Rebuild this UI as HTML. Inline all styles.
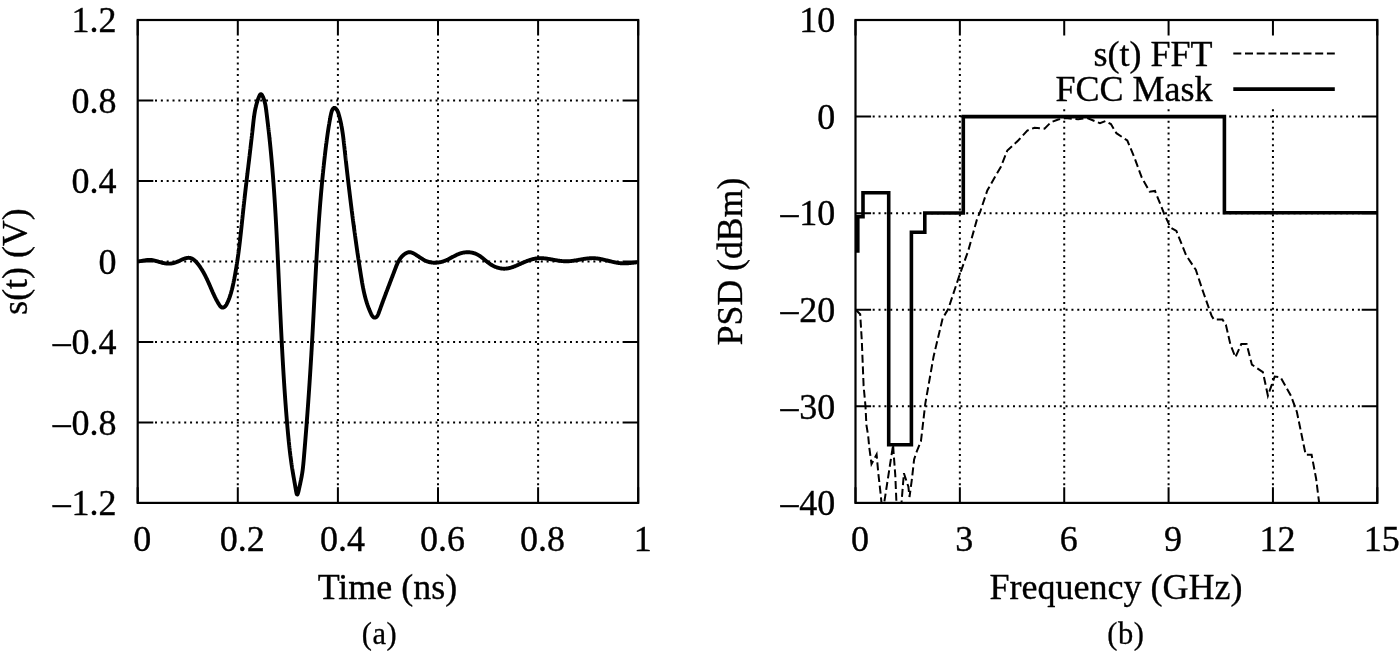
<!DOCTYPE html><html><head><meta charset="utf-8"><style>html,body{margin:0;padding:0;background:#fff;width:1400px;height:660px;overflow:hidden}svg{display:block;will-change:transform}</style></head><body>
<svg width="1400" height="660" viewBox="0 0 1400 660">
<defs><clipPath id="cl"><rect x="137.7" y="20" width="500.5" height="482.9"/></clipPath><clipPath id="cr"><rect x="855.5" y="20" width="521.8" height="482.9"/></clipPath></defs>
<path d="M155,100.48H620M155,180.97H620M155,261.45H620M155,341.93H620M155,422.42H620M237.8,39V486M337.9,39V486M438,39V486M538.1,39V486" stroke="#000" stroke-width="2.0" stroke-dasharray="2 3.845" fill="none"/>
<path d="M137.7,20h15.6M638.2,20h-15.6M137.7,100.48h15.6M638.2,100.48h-15.6M137.7,180.97h15.6M638.2,180.97h-15.6M137.7,261.45h15.6M638.2,261.45h-15.6M137.7,341.93h15.6M638.2,341.93h-15.6M137.7,422.42h15.6M638.2,422.42h-15.6M137.7,502.9h15.6M638.2,502.9h-15.6M137.7,502.9v-15.6M137.7,20v15.6M237.8,502.9v-15.6M237.8,20v15.6M337.9,502.9v-15.6M337.9,20v15.6M438,502.9v-15.6M438,20v15.6M538.1,502.9v-15.6M538.1,20v15.6M638.2,502.9v-15.6M638.2,20v15.6" stroke="#000" stroke-width="2" fill="none"/>
<rect x="137.7" y="20.0" width="500.5" height="482.9" stroke="#000" stroke-width="2.2" fill="none"/>
<polyline points="137,261.47 137.5,261.45 137.99,261.42 138.49,261.38 138.98,261.32 139.48,261.26 139.98,261.19 140.47,261.12 140.97,261.04 141.46,260.95 141.96,260.86 142.45,260.77 142.95,260.67 143.44,260.58 143.94,260.48 144.43,260.39 144.93,260.31 145.42,260.22 145.92,260.15 146.41,260.07 146.91,260.01 147.4,259.96 147.89,259.91 148.39,259.88 148.88,259.86 149.38,259.85 149.87,259.86 150.37,259.88 150.86,259.92 151.36,259.97 151.85,260.04 152.34,260.11 152.84,260.2 153.33,260.3 153.83,260.4 154.32,260.52 154.81,260.64 155.3,260.77 155.8,260.9 156.29,261.04 156.78,261.18 157.27,261.33 157.76,261.47 158.25,261.62 158.74,261.77 159.23,261.92 159.71,262.07 160.2,262.21 160.69,262.35 161.17,262.49 161.66,262.62 162.14,262.75 162.62,262.87 163.1,262.98 163.58,263.09 164.06,263.18 164.54,263.27 165.02,263.35 165.5,263.42 165.98,263.48 166.46,263.53 166.93,263.58 167.41,263.61 167.89,263.63 168.37,263.64 168.85,263.64 169.32,263.63 169.8,263.61 170.28,263.58 170.76,263.54 171.25,263.48 171.73,263.41 172.21,263.33 172.7,263.24 173.18,263.13 173.67,263.01 174.16,262.88 174.65,262.74 175.15,262.58 175.64,262.41 176.14,262.22 176.63,262.02 177.13,261.82 177.63,261.61 178.13,261.39 178.63,261.16 179.13,260.94 179.63,260.71 180.13,260.48 180.63,260.25 181.13,260.02 181.63,259.79 182.12,259.57 182.62,259.36 183.11,259.16 183.6,258.96 184.08,258.77 184.57,258.6 185.05,258.44 185.53,258.3 186,258.17 186.48,258.06 186.94,257.97 187.41,257.9 187.87,257.85 188.32,257.82 188.77,257.82 189.22,257.85 189.65,257.9 190.09,257.98 190.52,258.09 190.94,258.22 191.36,258.37 191.77,258.55 192.18,258.75 192.58,258.97 192.98,259.21 193.37,259.47 193.76,259.75 194.14,260.04 194.52,260.35 194.89,260.67 195.26,261.01 195.62,261.36 195.98,261.72 196.33,262.1 196.68,262.48 197.02,262.88 197.36,263.28 197.69,263.69 198.02,264.1 198.34,264.52 198.66,264.95 198.98,265.37 199.28,265.8 199.59,266.24 199.89,266.67 200.19,267.1 200.48,267.53 200.76,267.97 201.05,268.4 201.33,268.83 201.6,269.27 201.87,269.7 202.14,270.14 202.4,270.57 202.66,271.01 202.92,271.45 203.17,271.88 203.42,272.32 203.67,272.76 203.91,273.2 204.15,273.64 204.39,274.08 204.62,274.52 204.85,274.96 205.08,275.4 205.31,275.84 205.53,276.28 205.76,276.72 205.98,277.16 206.19,277.61 206.41,278.05 206.62,278.49 206.83,278.94 207.04,279.38 207.25,279.83 207.46,280.27 207.67,280.72 207.87,281.17 208.07,281.61 208.27,282.06 208.47,282.51 208.67,282.96 208.87,283.41 209.07,283.86 209.27,284.3 209.46,284.75 209.66,285.21 209.86,285.66 210.05,286.11 210.25,286.56 210.44,287.01 210.64,287.46 210.84,287.92 211.03,288.37 211.23,288.82 211.43,289.28 211.62,289.73 211.82,290.19 212.02,290.64 212.22,291.1 212.42,291.55 212.62,292.01 212.83,292.46 213.03,292.92 213.24,293.38 213.45,293.83 213.66,294.29 213.87,294.74 214.08,295.2 214.3,295.66 214.52,296.11 214.74,296.57 214.96,297.03 215.19,297.48 215.41,297.94 215.64,298.39 215.88,298.85 216.11,299.31 216.35,299.76 216.6,300.22 216.84,300.67 217.09,301.13 217.35,301.58 217.6,302.04 217.86,302.49 218.13,302.94 218.4,303.4 218.67,303.85 218.94,304.3 219.23,304.75 219.51,305.19 219.81,305.61 220.11,306.01 220.42,306.38 220.74,306.72 221.07,307.01 221.41,307.26 221.77,307.44 222.14,307.57 222.52,307.63 222.92,307.61 223.34,307.53 223.75,307.37 224.15,307.16 224.54,306.91 224.91,306.61 225.25,306.27 225.58,305.9 225.88,305.5 226.17,305.08 226.44,304.63 226.7,304.17 226.94,303.7 227.18,303.22 227.41,302.73 227.63,302.24 227.85,301.75 228.06,301.27 228.27,300.78 228.47,300.29 228.67,299.81 228.86,299.32 229.05,298.84 229.24,298.35 229.42,297.87 229.59,297.38 229.76,296.9 229.93,296.41 230.09,295.93 230.25,295.44 230.41,294.96 230.56,294.47 230.71,293.99 230.86,293.51 231,293.02 231.14,292.54 231.27,292.06 231.41,291.57 231.54,291.09 231.67,290.6 231.79,290.12 231.92,289.64 232.04,289.15 232.16,288.67 232.27,288.19 232.39,287.7 232.5,287.22 232.61,286.73 232.72,286.25 232.83,285.77 232.94,285.28 233.04,284.8 233.15,284.31 233.25,283.83 233.35,283.34 233.46,282.86 233.56,282.37 233.66,281.89 233.76,281.4 233.86,280.91 233.96,280.43 234.05,279.94 234.15,279.45 234.25,278.97 234.34,278.48 234.44,277.99 234.53,277.51 234.62,277.02 234.72,276.53 234.81,276.04 234.9,275.56 234.99,275.07 235.08,274.58 235.17,274.09 235.26,273.6 235.34,273.11 235.43,272.62 235.52,272.13 235.6,271.65 235.69,271.16 235.77,270.67 235.86,270.18 235.94,269.69 236.02,269.2 236.11,268.71 236.19,268.22 236.27,267.73 236.35,267.23 236.43,266.74 236.51,266.25 236.59,265.76 236.66,265.27 236.74,264.78 236.82,264.29 236.9,263.8 236.97,263.3 237.05,262.81 237.12,262.32 237.2,261.83 237.27,261.33 237.34,260.84 237.42,260.35 237.49,259.86 237.56,259.36 237.63,258.87 237.7,258.38 237.77,257.88 237.84,257.39 237.91,256.9 237.98,256.4 238.05,255.91 238.12,255.42 238.19,254.92 238.25,254.43 238.32,253.93 238.39,253.44 238.45,252.94 238.52,252.45 238.59,251.96 238.65,251.46 238.71,250.97 238.78,250.47 238.84,249.98 238.91,249.48 238.97,248.99 239.03,248.49 239.09,247.99 239.16,247.5 239.22,247 239.28,246.51 239.34,246.01 239.4,245.52 239.46,245.02 239.52,244.52 239.58,244.03 239.64,243.53 239.7,243.03 239.76,242.54 239.82,242.04 239.88,241.55 239.93,241.05 239.99,240.55 240.05,240.06 240.11,239.56 240.16,239.06 240.22,238.56 240.28,238.07 240.33,237.57 240.39,237.07 240.44,236.58 240.5,236.08 240.56,235.58 240.61,235.08 240.67,234.59 240.72,234.09 240.78,233.59 240.83,233.09 240.88,232.6 240.94,232.1 240.99,231.6 241.05,231.1 241.1,230.6 241.15,230.11 241.21,229.61 241.26,229.11 241.31,228.61 241.37,228.11 241.42,227.62 241.47,227.12 241.53,226.62 241.58,226.12 241.63,225.62 241.68,225.12 241.74,224.63 241.79,224.13 241.84,223.63 241.89,223.13 241.95,222.63 242,222.13 242.05,221.64 242.1,221.14 242.16,220.64 242.21,220.14 242.26,219.64 242.31,219.14 242.36,218.64 242.42,218.15 242.47,217.65 242.52,217.15 242.57,216.65 242.63,216.15 242.68,215.65 242.73,215.15 242.78,214.65 242.84,214.16 242.89,213.66 242.94,213.16 242.99,212.66 243.05,212.16 243.1,211.66 243.15,211.16 243.2,210.67 243.26,210.17 243.31,209.67 243.36,209.17 243.42,208.67 243.47,208.17 243.52,207.67 243.58,207.18 243.63,206.68 243.69,206.18 243.74,205.68 243.79,205.18 243.85,204.68 243.9,204.18 243.96,203.69 244.01,203.19 244.07,202.69 244.12,202.19 244.18,201.69 244.23,201.19 244.29,200.7 244.34,200.2 244.4,199.7 244.46,199.2 244.51,198.7 244.57,198.21 244.62,197.71 244.68,197.21 244.74,196.71 244.79,196.21 244.85,195.72 244.91,195.22 244.96,194.72 245.02,194.22 245.08,193.72 245.13,193.23 245.19,192.73 245.25,192.23 245.3,191.73 245.36,191.23 245.42,190.74 245.48,190.24 245.53,189.74 245.59,189.24 245.65,188.74 245.71,188.25 245.77,187.75 245.82,187.25 245.88,186.75 245.94,186.26 246,185.76 246.06,185.26 246.11,184.76 246.17,184.27 246.23,183.77 246.29,183.27 246.35,182.77 246.41,182.28 246.46,181.78 246.52,181.28 246.58,180.78 246.64,180.29 246.7,179.79 246.76,179.29 246.82,178.8 246.88,178.3 246.93,177.8 246.99,177.3 247.05,176.81 247.11,176.31 247.17,175.81 247.23,175.32 247.29,174.82 247.35,174.32 247.41,173.82 247.47,173.33 247.52,172.83 247.58,172.33 247.64,171.84 247.7,171.34 247.76,170.84 247.82,170.35 247.88,169.85 247.94,169.35 248,168.86 248.06,168.36 248.12,167.86 248.18,167.37 248.24,166.87 248.3,166.37 248.35,165.88 248.41,165.38 248.47,164.88 248.53,164.39 248.59,163.89 248.65,163.4 248.71,162.9 248.77,162.4 248.83,161.91 248.89,161.41 248.95,160.91 249.01,160.42 249.07,159.92 249.12,159.43 249.18,158.93 249.24,158.43 249.3,157.94 249.36,157.44 249.42,156.95 249.48,156.45 249.54,155.95 249.6,155.46 249.65,154.96 249.71,154.47 249.77,153.97 249.83,153.48 249.89,152.98 249.95,152.48 250.01,151.99 250.07,151.49 250.12,151 250.18,150.5 250.24,150.01 250.3,149.51 250.36,149.02 250.41,148.52 250.47,148.03 250.53,147.53 250.59,147.04 250.65,146.54 250.7,146.05 250.76,145.55 250.82,145.05 250.88,144.56 250.94,144.06 250.99,143.57 251.05,143.07 251.11,142.58 251.16,142.09 251.22,141.59 251.28,141.1 251.34,140.6 251.39,140.11 251.45,139.61 251.51,139.12 251.56,138.62 251.62,138.13 251.67,137.63 251.73,137.14 251.79,136.64 251.84,136.15 251.9,135.66 251.95,135.16 252.01,134.67 252.07,134.17 252.12,133.68 252.18,133.18 252.23,132.69 252.29,132.2 252.34,131.7 252.4,131.21 252.45,130.71 252.51,130.22 252.56,129.73 252.62,129.23 252.67,128.74 252.72,128.24 252.78,127.75 252.83,127.26 252.89,126.76 252.94,126.27 252.99,125.78 253.05,125.28 253.1,124.79 253.15,124.29 253.21,123.8 253.26,123.31 253.31,122.81 253.37,122.32 253.42,121.83 253.48,121.33 253.54,120.84 253.59,120.35 253.65,119.85 253.71,119.36 253.77,118.86 253.83,118.37 253.9,117.88 253.96,117.38 254.03,116.89 254.09,116.39 254.16,115.9 254.23,115.4 254.31,114.91 254.38,114.42 254.46,113.92 254.54,113.42 254.62,112.93 254.7,112.43 254.79,111.94 254.87,111.44 254.96,110.95 255.06,110.45 255.15,109.95 255.25,109.46 255.36,108.96 255.46,108.46 255.57,107.96 255.68,107.46 255.8,106.97 255.91,106.47 256.03,105.97 256.16,105.47 256.29,104.97 256.42,104.47 256.56,103.97 256.7,103.47 256.84,102.97 256.99,102.47 257.15,101.96 257.3,101.46 257.47,100.96 257.63,100.46 257.8,99.95 257.98,99.45 258.16,98.95 258.35,98.44 258.54,97.94 258.73,97.43 258.93,96.93 259.14,96.43 259.35,95.96 259.57,95.52 259.79,95.13 260.01,94.79 260.24,94.51 260.48,94.31 260.72,94.19 260.96,94.17 261.21,94.26 261.46,94.43 261.71,94.69 261.96,95.02 262.21,95.41 262.45,95.84 262.69,96.32 262.93,96.82 263.15,97.33 263.36,97.85 263.56,98.37 263.75,98.88 263.93,99.39 264.1,99.9 264.27,100.41 264.42,100.92 264.56,101.42 264.7,101.93 264.83,102.43 264.95,102.93 265.07,103.43 265.18,103.93 265.28,104.43 265.38,104.93 265.47,105.43 265.55,105.92 265.64,106.42 265.72,106.91 265.79,107.4 265.87,107.9 265.94,108.39 266,108.88 266.07,109.38 266.14,109.87 266.2,110.36 266.26,110.86 266.33,111.35 266.39,111.84 266.45,112.33 266.52,112.83 266.58,113.32 266.64,113.81 266.7,114.31 266.76,114.8 266.83,115.29 266.89,115.79 266.95,116.28 267.01,116.78 267.07,117.27 267.13,117.76 267.19,118.26 267.25,118.75 267.31,119.25 267.37,119.74 267.43,120.23 267.49,120.73 267.55,121.22 267.61,121.72 267.67,122.21 267.73,122.71 267.79,123.2 267.85,123.7 267.91,124.19 267.97,124.69 268.02,125.18 268.08,125.68 268.14,126.17 268.2,126.67 268.25,127.17 268.31,127.66 268.37,128.16 268.43,128.65 268.48,129.15 268.54,129.64 268.59,130.14 268.65,130.64 268.71,131.13 268.76,131.63 268.82,132.12 268.87,132.62 268.93,133.12 268.98,133.61 269.04,134.11 269.09,134.61 269.15,135.1 269.2,135.6 269.25,136.1 269.31,136.59 269.36,137.09 269.41,137.59 269.47,138.08 269.52,138.58 269.57,139.08 269.63,139.57 269.68,140.07 269.73,140.57 269.78,141.06 269.83,141.56 269.89,142.06 269.94,142.55 269.99,143.05 270.04,143.55 270.09,144.05 270.14,144.54 270.19,145.04 270.24,145.54 270.29,146.04 270.34,146.53 270.39,147.03 270.44,147.53 270.49,148.03 270.54,148.52 270.59,149.02 270.63,149.52 270.68,150.02 270.73,150.51 270.78,151.01 270.83,151.51 270.87,152.01 270.92,152.5 270.97,153 271.02,153.5 271.06,154 271.11,154.49 271.15,154.99 271.2,155.49 271.25,155.99 271.29,156.49 271.34,156.98 271.38,157.48 271.43,157.98 271.47,158.48 271.52,158.98 271.56,159.47 271.61,159.97 271.65,160.47 271.7,160.97 271.74,161.47 271.78,161.96 271.83,162.46 271.87,162.96 271.92,163.46 271.96,163.96 272,164.45 272.04,164.95 272.09,165.45 272.13,165.95 272.17,166.45 272.21,166.95 272.26,167.44 272.3,167.94 272.34,168.44 272.38,168.94 272.42,169.44 272.46,169.94 272.5,170.43 272.54,170.93 272.58,171.43 272.62,171.93 272.66,172.43 272.7,172.93 272.74,173.42 272.78,173.92 272.82,174.42 272.86,174.92 272.9,175.42 272.94,175.92 272.98,176.42 273.02,176.91 273.06,177.41 273.1,177.91 273.13,178.41 273.17,178.91 273.21,179.41 273.25,179.91 273.29,180.41 273.32,180.9 273.36,181.4 273.4,181.9 273.44,182.4 273.47,182.9 273.51,183.4 273.55,183.9 273.58,184.4 273.62,184.89 273.66,185.39 273.69,185.89 273.73,186.39 273.76,186.89 273.8,187.39 273.83,187.89 273.87,188.39 273.9,188.89 273.94,189.38 273.97,189.88 274.01,190.38 274.04,190.88 274.08,191.38 274.11,191.88 274.15,192.38 274.18,192.88 274.22,193.38 274.25,193.88 274.28,194.37 274.32,194.87 274.35,195.37 274.38,195.87 274.42,196.37 274.45,196.87 274.48,197.37 274.52,197.87 274.55,198.37 274.58,198.87 274.61,199.37 274.65,199.87 274.68,200.36 274.71,200.86 274.74,201.36 274.77,201.86 274.81,202.36 274.84,202.86 274.87,203.36 274.9,203.86 274.93,204.36 274.96,204.86 275,205.36 275.03,205.86 275.06,206.36 275.09,206.86 275.12,207.35 275.15,207.85 275.18,208.35 275.21,208.85 275.24,209.35 275.27,209.85 275.3,210.35 275.33,210.85 275.36,211.35 275.39,211.85 275.42,212.35 275.45,212.85 275.48,213.35 275.51,213.85 275.54,214.35 275.57,214.85 275.59,215.34 275.62,215.84 275.65,216.34 275.68,216.84 275.71,217.34 275.74,217.84 275.77,218.34 275.79,218.84 275.82,219.34 275.85,219.84 275.88,220.34 275.91,220.84 275.94,221.34 275.96,221.84 275.99,222.34 276.02,222.84 276.05,223.34 276.07,223.84 276.1,224.34 276.13,224.83 276.16,225.33 276.18,225.83 276.21,226.33 276.24,226.83 276.26,227.33 276.29,227.83 276.32,228.33 276.34,228.83 276.37,229.33 276.4,229.83 276.42,230.33 276.45,230.83 276.48,231.33 276.5,231.83 276.53,232.33 276.55,232.83 276.58,233.33 276.61,233.83 276.63,234.33 276.66,234.83 276.68,235.33 276.71,235.82 276.73,236.32 276.76,236.82 276.79,237.32 276.81,237.82 276.84,238.32 276.86,238.82 276.89,239.32 276.91,239.82 276.94,240.32 276.96,240.82 276.99,241.32 277.01,241.82 277.04,242.32 277.06,242.82 277.09,243.32 277.11,243.82 277.14,244.32 277.16,244.82 277.18,245.32 277.21,245.82 277.23,246.31 277.26,246.81 277.28,247.31 277.31,247.81 277.33,248.31 277.35,248.81 277.38,249.31 277.4,249.81 277.43,250.31 277.45,250.81 277.47,251.31 277.5,251.81 277.52,252.31 277.55,252.81 277.57,253.31 277.59,253.81 277.62,254.31 277.64,254.81 277.67,255.31 277.69,255.8 277.71,256.3 277.74,256.8 277.76,257.3 277.78,257.8 277.81,258.3 277.83,258.8 277.85,259.3 277.88,259.8 277.9,260.3 277.92,260.8 277.95,261.3 277.97,261.8 277.99,262.3 278.02,262.8 278.04,263.3 278.06,263.79 278.09,264.29 278.11,264.79 278.13,265.29 278.15,265.79 278.18,266.29 278.2,266.79 278.22,267.29 278.25,267.79 278.27,268.29 278.29,268.79 278.32,269.29 278.34,269.79 278.36,270.29 278.38,270.78 278.41,271.28 278.43,271.78 278.45,272.28 278.48,272.78 278.5,273.28 278.52,273.78 278.54,274.28 278.57,274.78 278.59,275.28 278.61,275.78 278.63,276.28 278.66,276.77 278.68,277.27 278.7,277.77 278.73,278.27 278.75,278.77 278.77,279.27 278.79,279.77 278.82,280.27 278.84,280.77 278.86,281.27 278.88,281.77 278.91,282.26 278.93,282.76 278.95,283.26 278.97,283.76 279,284.26 279.02,284.76 279.04,285.26 279.06,285.76 279.09,286.26 279.11,286.76 279.13,287.25 279.16,287.75 279.18,288.25 279.2,288.75 279.22,289.25 279.25,289.75 279.27,290.25 279.29,290.75 279.31,291.25 279.34,291.75 279.36,292.24 279.38,292.74 279.4,293.24 279.43,293.74 279.45,294.24 279.47,294.74 279.5,295.24 279.52,295.74 279.54,296.24 279.56,296.73 279.59,297.23 279.61,297.73 279.63,298.23 279.66,298.73 279.68,299.23 279.7,299.73 279.72,300.23 279.75,300.73 279.77,301.22 279.79,301.72 279.82,302.22 279.84,302.72 279.86,303.22 279.88,303.72 279.91,304.22 279.93,304.72 279.95,305.22 279.98,305.71 280,306.21 280.02,306.71 280.05,307.21 280.07,307.71 280.09,308.21 280.11,308.71 280.14,309.21 280.16,309.71 280.18,310.2 280.21,310.7 280.23,311.2 280.25,311.7 280.28,312.2 280.3,312.7 280.32,313.2 280.35,313.7 280.37,314.2 280.39,314.69 280.42,315.19 280.44,315.69 280.47,316.19 280.49,316.69 280.51,317.19 280.54,317.69 280.56,318.19 280.58,318.69 280.61,319.18 280.63,319.68 280.66,320.18 280.68,320.68 280.7,321.18 280.73,321.68 280.75,322.18 280.78,322.68 280.8,323.17 280.82,323.67 280.85,324.17 280.87,324.67 280.9,325.17 280.92,325.67 280.94,326.17 280.97,326.67 280.99,327.17 281.02,327.66 281.04,328.16 281.07,328.66 281.09,329.16 281.12,329.66 281.14,330.16 281.17,330.66 281.19,331.16 281.22,331.66 281.24,332.15 281.27,332.65 281.29,333.15 281.32,333.65 281.34,334.15 281.37,334.65 281.39,335.15 281.42,335.65 281.44,336.15 281.47,336.64 281.49,337.14 281.52,337.64 281.54,338.14 281.57,338.64 281.59,339.14 281.62,339.64 281.64,340.14 281.67,340.64 281.7,341.13 281.72,341.63 281.75,342.13 281.77,342.63 281.8,343.13 281.83,343.63 281.85,344.13 281.88,344.63 281.91,345.13 281.93,345.62 281.96,346.12 281.98,346.62 282.01,347.12 282.04,347.62 282.06,348.12 282.09,348.62 282.12,349.12 282.14,349.62 282.17,350.12 282.2,350.61 282.23,351.11 282.25,351.61 282.28,352.11 282.31,352.61 282.33,353.11 282.36,353.61 282.39,354.11 282.42,354.61 282.44,355.11 282.47,355.6 282.5,356.1 282.53,356.6 282.56,357.1 282.58,357.6 282.61,358.1 282.64,358.6 282.67,359.1 282.7,359.6 282.72,360.1 282.75,360.59 282.78,361.09 282.81,361.59 282.84,362.09 282.87,362.59 282.9,363.09 282.93,363.59 282.95,364.09 282.98,364.59 283.01,365.09 283.04,365.59 283.07,366.09 283.1,366.58 283.13,367.08 283.16,367.58 283.19,368.08 283.22,368.58 283.25,369.08 283.28,369.58 283.31,370.08 283.34,370.58 283.37,371.08 283.4,371.58 283.43,372.08 283.46,372.57 283.49,373.07 283.52,373.57 283.55,374.07 283.58,374.57 283.61,375.07 283.64,375.57 283.68,376.07 283.71,376.57 283.74,377.07 283.77,377.57 283.8,378.07 283.83,378.57 283.86,379.07 283.9,379.57 283.93,380.06 283.96,380.56 283.99,381.06 284.02,381.56 284.06,382.06 284.09,382.56 284.12,383.06 284.15,383.56 284.19,384.06 284.22,384.56 284.25,385.06 284.28,385.56 284.32,386.06 284.35,386.56 284.38,387.06 284.42,387.56 284.45,388.06 284.48,388.56 284.52,389.06 284.55,389.55 284.59,390.05 284.62,390.55 284.65,391.05 284.69,391.55 284.72,392.05 284.76,392.55 284.79,393.05 284.83,393.55 284.86,394.05 284.9,394.55 284.93,395.05 284.97,395.55 285,396.05 285.04,396.55 285.07,397.05 285.11,397.55 285.14,398.05 285.18,398.55 285.21,399.05 285.25,399.55 285.29,400.05 285.32,400.55 285.36,401.05 285.4,401.55 285.43,402.05 285.47,402.55 285.51,403.05 285.54,403.55 285.58,404.05 285.62,404.55 285.66,405.05 285.69,405.55 285.73,406.05 285.77,406.55 285.81,407.05 285.84,407.55 285.88,408.05 285.92,408.55 285.96,409.05 286,409.55 286.04,410.05 286.07,410.55 286.11,411.05 286.15,411.55 286.19,412.05 286.23,412.55 286.27,413.05 286.31,413.55 286.35,414.05 286.39,414.55 286.43,415.05 286.47,415.55 286.51,416.05 286.55,416.55 286.59,417.05 286.63,417.55 286.67,418.05 286.71,418.55 286.75,419.05 286.79,419.55 286.84,420.05 286.88,420.55 286.92,421.05 286.96,421.55 287,422.05 287.04,422.55 287.09,423.05 287.13,423.55 287.17,424.05 287.21,424.55 287.26,425.05 287.3,425.56 287.34,426.06 287.39,426.56 287.43,427.06 287.47,427.56 287.52,428.06 287.56,428.56 287.61,429.06 287.65,429.56 287.7,430.06 287.74,430.56 287.79,431.06 287.83,431.56 287.88,432.06 287.92,432.56 287.97,433.06 288.01,433.56 288.06,434.06 288.11,434.56 288.15,435.06 288.2,435.55 288.25,436.05 288.3,436.55 288.35,437.05 288.39,437.55 288.44,438.05 288.49,438.55 288.54,439.05 288.59,439.55 288.64,440.04 288.69,440.54 288.74,441.04 288.79,441.54 288.84,442.04 288.9,442.53 288.95,443.03 289,443.53 289.05,444.03 289.1,444.52 289.16,445.02 289.21,445.52 289.27,446.01 289.32,446.51 289.37,447 289.43,447.5 289.48,448 289.54,448.49 289.6,448.99 289.65,449.48 289.71,449.98 289.77,450.47 289.82,450.97 289.88,451.46 289.94,451.95 290,452.45 290.06,452.94 290.12,453.43 290.18,453.93 290.24,454.42 290.3,454.91 290.36,455.41 290.43,455.9 290.49,456.39 290.55,456.88 290.61,457.37 290.68,457.86 290.74,458.35 290.81,458.84 290.87,459.33 290.94,459.82 291.01,460.31 291.07,460.8 291.14,461.29 291.21,461.78 291.28,462.27 291.34,462.76 291.41,463.24 291.48,463.73 291.55,464.22 291.62,464.71 291.7,465.19 291.77,465.68 291.84,466.16 291.91,466.65 291.99,467.13 292.06,467.62 292.14,468.1 292.21,468.59 292.29,469.07 292.36,469.55 292.44,470.04 292.52,470.52 292.6,471 292.68,471.48 292.76,471.96 292.84,472.45 292.92,472.93 293,473.41 293.08,473.89 293.16,474.37 293.25,474.85 293.33,475.33 293.41,475.81 293.5,476.3 293.58,476.79 293.67,477.28 293.76,477.77 293.84,478.26 293.93,478.76 294.02,479.26 294.11,479.76 294.2,480.27 294.29,480.78 294.38,481.29 294.47,481.81 294.56,482.33 294.66,482.86 294.75,483.4 294.84,483.94 294.94,484.48 295.03,485.03 295.13,485.59 295.23,486.16 295.32,486.73 295.42,487.31 295.52,487.89 295.62,488.49 295.72,489.09 295.82,489.69 295.92,490.28 296.02,490.87 296.12,491.43 296.23,491.97 296.33,492.48 296.44,492.94 296.55,493.36 296.66,493.73 296.77,494.04 296.89,494.29 297.01,494.46 297.13,494.55 297.25,494.55 297.38,494.47 297.51,494.31 297.64,494.07 297.77,493.77 297.91,493.41 298.04,492.99 298.18,492.53 298.31,492.02 298.45,491.48 298.59,490.92 298.72,490.34 298.86,489.74 298.99,489.14 299.12,488.54 299.25,487.94 299.38,487.36 299.51,486.78 299.63,486.21 299.76,485.65 299.88,485.1 300,484.56 300.11,484.02 300.23,483.49 300.34,482.97 300.45,482.45 300.56,481.94 300.67,481.43 300.77,480.93 300.87,480.43 300.98,479.94 301.07,479.45 301.17,478.97 301.27,478.49 301.36,478.01 301.45,477.53 301.54,477.06 301.63,476.58 301.72,476.11 301.8,475.64 301.88,475.17 301.96,474.7 302.04,474.23 302.12,473.76 302.19,473.29 302.27,472.81 302.34,472.34 302.41,471.86 302.48,471.38 302.54,470.9 302.61,470.42 302.67,469.94 302.73,469.46 302.79,468.97 302.85,468.48 302.91,467.99 302.96,467.5 303.02,467.01 303.07,466.52 303.12,466.03 303.18,465.53 303.23,465.04 303.28,464.54 303.33,464.04 303.37,463.55 303.42,463.05 303.47,462.55 303.51,462.05 303.56,461.55 303.6,461.05 303.65,460.55 303.69,460.05 303.73,459.55 303.78,459.04 303.82,458.54 303.86,458.04 303.91,457.54 303.95,457.04 303.99,456.54 304.04,456.03 304.08,455.53 304.12,455.03 304.16,454.53 304.2,454.03 304.25,453.53 304.29,453.03 304.33,452.52 304.37,452.02 304.42,451.52 304.46,451.02 304.5,450.52 304.54,450.02 304.58,449.52 304.62,449.02 304.67,448.52 304.71,448.02 304.75,447.51 304.79,447.01 304.83,446.51 304.87,446.01 304.91,445.51 304.96,445.01 305,444.51 305.04,444.01 305.08,443.51 305.12,443.01 305.16,442.51 305.2,442.01 305.24,441.51 305.28,441.01 305.32,440.51 305.36,440.01 305.4,439.51 305.44,439.01 305.48,438.51 305.52,438.01 305.56,437.51 305.6,437.01 305.64,436.51 305.68,436.01 305.72,435.51 305.76,435.01 305.8,434.51 305.84,434.01 305.88,433.51 305.92,433.01 305.96,432.51 306,432.01 306.04,431.51 306.08,431.01 306.12,430.51 306.16,430.01 306.19,429.51 306.23,429.01 306.27,428.51 306.31,428.01 306.35,427.51 306.39,427.01 306.43,426.51 306.47,426.01 306.5,425.51 306.54,425.01 306.58,424.52 306.62,424.02 306.66,423.52 306.7,423.02 306.73,422.52 306.77,422.02 306.81,421.52 306.85,421.02 306.89,420.52 306.92,420.02 306.96,419.52 307,419.02 307.04,418.53 307.07,418.03 307.11,417.53 307.15,417.03 307.19,416.53 307.22,416.03 307.26,415.53 307.3,415.03 307.33,414.54 307.37,414.04 307.41,413.54 307.44,413.04 307.48,412.54 307.52,412.04 307.55,411.54 307.59,411.04 307.63,410.55 307.66,410.05 307.7,409.55 307.74,409.05 307.77,408.55 307.81,408.05 307.84,407.55 307.88,407.06 307.92,406.56 307.95,406.06 307.99,405.56 308.02,405.06 308.06,404.56 308.1,404.07 308.13,403.57 308.17,403.07 308.2,402.57 308.24,402.07 308.27,401.57 308.31,401.08 308.34,400.58 308.38,400.08 308.41,399.58 308.45,399.08 308.48,398.58 308.52,398.09 308.55,397.59 308.59,397.09 308.62,396.59 308.66,396.09 308.69,395.59 308.73,395.1 308.76,394.6 308.8,394.1 308.83,393.6 308.86,393.1 308.9,392.61 308.93,392.11 308.97,391.61 309,391.11 309.03,390.61 309.07,390.12 309.1,389.62 309.14,389.12 309.17,388.62 309.2,388.12 309.24,387.63 309.27,387.13 309.3,386.63 309.34,386.13 309.37,385.63 309.4,385.14 309.44,384.64 309.47,384.14 309.5,383.64 309.54,383.14 309.57,382.65 309.6,382.15 309.63,381.65 309.67,381.15 309.7,380.65 309.73,380.16 309.77,379.66 309.8,379.16 309.83,378.66 309.86,378.16 309.89,377.67 309.93,377.17 309.96,376.67 309.99,376.17 310.02,375.67 310.06,375.18 310.09,374.68 310.12,374.18 310.15,373.68 310.18,373.18 310.22,372.69 310.25,372.19 310.28,371.69 310.31,371.19 310.34,370.69 310.37,370.2 310.4,369.7 310.44,369.2 310.47,368.7 310.5,368.2 310.53,367.71 310.56,367.21 310.59,366.71 310.62,366.21 310.65,365.71 310.68,365.22 310.71,364.72 310.75,364.22 310.78,363.72 310.81,363.22 310.84,362.73 310.87,362.23 310.9,361.73 310.93,361.23 310.96,360.73 310.99,360.24 311.02,359.74 311.05,359.24 311.08,358.74 311.11,358.24 311.14,357.74 311.17,357.25 311.2,356.75 311.23,356.25 311.26,355.75 311.29,355.25 311.32,354.76 311.35,354.26 311.38,353.76 311.41,353.26 311.44,352.76 311.46,352.26 311.49,351.77 311.52,351.27 311.55,350.77 311.58,350.27 311.61,349.77 311.64,349.27 311.67,348.78 311.7,348.28 311.73,347.78 311.75,347.28 311.78,346.78 311.81,346.28 311.84,345.78 311.87,345.29 311.9,344.79 311.93,344.29 311.95,343.79 311.98,343.29 312.01,342.79 312.04,342.29 312.07,341.8 312.1,341.3 312.12,340.8 312.15,340.3 312.18,339.8 312.21,339.3 312.23,338.8 312.26,338.3 312.29,337.81 312.32,337.31 312.35,336.81 312.37,336.31 312.4,335.81 312.43,335.31 312.46,334.81 312.48,334.31 312.51,333.81 312.54,333.32 312.56,332.82 312.59,332.32 312.62,331.82 312.65,331.32 312.67,330.82 312.7,330.32 312.73,329.82 312.75,329.32 312.78,328.82 312.81,328.32 312.83,327.83 312.86,327.33 312.89,326.83 312.91,326.33 312.94,325.83 312.97,325.33 312.99,324.83 313.02,324.33 313.05,323.83 313.07,323.33 313.1,322.83 313.13,322.33 313.15,321.83 313.18,321.33 313.21,320.84 313.23,320.34 313.26,319.84 313.28,319.34 313.31,318.84 313.34,318.34 313.36,317.84 313.39,317.34 313.42,316.84 313.44,316.34 313.47,315.84 313.49,315.34 313.52,314.84 313.55,314.34 313.57,313.84 313.6,313.34 313.62,312.84 313.65,312.34 313.68,311.84 313.7,311.34 313.73,310.85 313.75,310.35 313.78,309.85 313.81,309.35 313.83,308.85 313.86,308.35 313.88,307.85 313.91,307.35 313.94,306.85 313.96,306.35 313.99,305.85 314.01,305.35 314.04,304.85 314.07,304.35 314.09,303.85 314.12,303.35 314.14,302.85 314.17,302.35 314.19,301.85 314.22,301.35 314.25,300.85 314.27,300.35 314.3,299.85 314.32,299.35 314.35,298.85 314.38,298.35 314.4,297.85 314.43,297.35 314.45,296.85 314.48,296.35 314.51,295.85 314.53,295.35 314.56,294.85 314.58,294.35 314.61,293.85 314.63,293.35 314.66,292.85 314.69,292.35 314.71,291.85 314.74,291.35 314.77,290.85 314.79,290.35 314.82,289.85 314.84,289.35 314.87,288.85 314.9,288.35 314.92,287.85 314.95,287.35 314.97,286.85 315,286.35 315.03,285.85 315.05,285.35 315.08,284.85 315.11,284.35 315.13,283.85 315.16,283.36 315.18,282.86 315.21,282.36 315.24,281.86 315.26,281.36 315.29,280.86 315.32,280.36 315.34,279.86 315.37,279.36 315.4,278.86 315.42,278.36 315.45,277.86 315.48,277.36 315.5,276.86 315.53,276.36 315.56,275.86 315.59,275.36 315.61,274.86 315.64,274.36 315.67,273.86 315.69,273.36 315.72,272.86 315.75,272.36 315.77,271.86 315.8,271.36 315.83,270.86 315.86,270.36 315.88,269.86 315.91,269.36 315.94,268.86 315.97,268.36 315.99,267.86 316.02,267.36 316.05,266.86 316.08,266.36 316.1,265.86 316.13,265.36 316.16,264.86 316.19,264.36 316.22,263.86 316.24,263.36 316.27,262.86 316.3,262.36 316.33,261.86 316.36,261.36 316.39,260.86 316.41,260.36 316.44,259.86 316.47,259.36 316.5,258.86 316.53,258.36 316.56,257.86 316.59,257.36 316.61,256.86 316.64,256.36 316.67,255.86 316.7,255.36 316.73,254.86 316.76,254.36 316.79,253.86 316.82,253.36 316.85,252.86 316.88,252.36 316.91,251.86 316.94,251.36 316.97,250.86 317,250.36 317.03,249.86 317.06,249.36 317.09,248.86 317.12,248.36 317.15,247.87 317.18,247.37 317.21,246.87 317.24,246.37 317.27,245.87 317.3,245.37 317.33,244.87 317.36,244.37 317.39,243.87 317.42,243.37 317.45,242.87 317.48,242.37 317.51,241.87 317.55,241.37 317.58,240.87 317.61,240.37 317.64,239.87 317.67,239.37 317.7,238.87 317.73,238.37 317.77,237.87 317.8,237.38 317.83,236.88 317.86,236.38 317.89,235.88 317.93,235.38 317.96,234.88 317.99,234.38 318.02,233.88 318.06,233.38 318.09,232.88 318.12,232.38 318.16,231.88 318.19,231.38 318.22,230.88 318.26,230.38 318.29,229.89 318.32,229.39 318.36,228.89 318.39,228.39 318.42,227.89 318.46,227.39 318.49,226.89 318.53,226.39 318.56,225.89 318.6,225.39 318.63,224.89 318.66,224.4 318.7,223.9 318.73,223.4 318.77,222.9 318.8,222.4 318.84,221.9 318.87,221.4 318.91,220.9 318.95,220.4 318.98,219.91 319.02,219.41 319.05,218.91 319.09,218.41 319.13,217.91 319.16,217.41 319.2,216.91 319.23,216.41 319.27,215.92 319.31,215.42 319.34,214.92 319.38,214.42 319.42,213.92 319.46,213.42 319.49,212.92 319.53,212.43 319.57,211.93 319.61,211.43 319.64,210.93 319.68,210.43 319.72,209.93 319.76,209.43 319.8,208.94 319.84,208.44 319.87,207.94 319.91,207.44 319.95,206.94 319.99,206.44 320.03,205.95 320.07,205.45 320.11,204.95 320.15,204.45 320.19,203.95 320.23,203.45 320.27,202.96 320.31,202.46 320.35,201.96 320.39,201.46 320.43,200.96 320.47,200.47 320.51,199.97 320.55,199.47 320.6,198.97 320.64,198.47 320.68,197.98 320.72,197.48 320.76,196.98 320.8,196.48 320.85,195.99 320.89,195.49 320.93,194.99 320.97,194.49 321.02,193.99 321.06,193.5 321.1,193 321.15,192.5 321.19,192 321.23,191.51 321.28,191.01 321.32,190.51 321.36,190.01 321.41,189.52 321.45,189.02 321.5,188.52 321.54,188.03 321.59,187.53 321.63,187.03 321.68,186.53 321.72,186.04 321.77,185.54 321.81,185.04 321.86,184.54 321.91,184.05 321.95,183.55 322,183.05 322.05,182.56 322.09,182.06 322.14,181.56 322.19,181.07 322.23,180.57 322.28,180.07 322.33,179.58 322.38,179.08 322.42,178.58 322.47,178.09 322.52,177.59 322.57,177.09 322.62,176.6 322.67,176.1 322.72,175.6 322.77,175.11 322.82,174.61 322.86,174.11 322.91,173.62 322.96,173.12 323.01,172.62 323.07,172.13 323.12,171.63 323.17,171.13 323.22,170.64 323.27,170.14 323.32,169.65 323.37,169.15 323.42,168.65 323.48,168.16 323.53,167.66 323.58,167.17 323.63,166.67 323.68,166.17 323.74,165.68 323.79,165.18 323.84,164.69 323.9,164.19 323.95,163.69 324,163.2 324.06,162.7 324.11,162.21 324.17,161.71 324.22,161.22 324.28,160.72 324.33,160.23 324.39,159.73 324.44,159.24 324.5,158.74 324.55,158.24 324.61,157.75 324.67,157.25 324.72,156.76 324.78,156.26 324.84,155.77 324.89,155.27 324.95,154.78 325.01,154.28 325.07,153.79 325.13,153.29 325.18,152.8 325.24,152.3 325.3,151.81 325.36,151.31 325.42,150.82 325.48,150.33 325.54,149.83 325.6,149.34 325.66,148.84 325.72,148.35 325.78,147.85 325.84,147.36 325.9,146.86 325.96,146.37 326.02,145.87 326.08,145.38 326.15,144.89 326.21,144.39 326.27,143.9 326.33,143.4 326.4,142.91 326.46,142.41 326.52,141.92 326.59,141.42 326.65,140.93 326.72,140.44 326.78,139.94 326.85,139.45 326.92,138.95 326.98,138.46 327.05,137.96 327.12,137.47 327.19,136.97 327.26,136.47 327.33,135.98 327.4,135.48 327.47,134.99 327.54,134.49 327.61,133.99 327.68,133.5 327.75,133 327.83,132.5 327.9,132.01 327.97,131.51 328.05,131.01 328.12,130.52 328.2,130.02 328.28,129.52 328.35,129.02 328.43,128.52 328.51,128.02 328.59,127.53 328.67,127.03 328.75,126.53 328.83,126.03 328.91,125.53 329,125.03 329.08,124.53 329.17,124.03 329.25,123.52 329.34,123.02 329.42,122.52 329.51,122.02 329.6,121.52 329.69,121.01 329.78,120.51 329.87,120.01 329.96,119.5 330.06,119 330.15,118.49 330.24,117.99 330.34,117.48 330.44,116.98 330.53,116.47 330.63,115.97 330.73,115.46 330.83,114.95 330.93,114.44 331.04,113.94 331.15,113.43 331.26,112.93 331.38,112.44 331.52,111.95 331.66,111.47 331.82,111 332,110.55 332.19,110.11 332.4,109.68 332.63,109.27 332.89,108.88 333.16,108.54 333.44,108.25 333.75,108.03 334.06,107.89 334.39,107.85 334.72,107.9 335.06,108.04 335.4,108.24 335.74,108.51 336.06,108.84 336.37,109.2 336.67,109.59 336.94,110 337.2,110.43 337.43,110.87 337.65,111.32 337.85,111.78 338.04,112.26 338.22,112.74 338.39,113.23 338.55,113.72 338.7,114.22 338.84,114.72 338.99,115.22 339.13,115.72 339.26,116.22 339.4,116.72 339.53,117.22 339.66,117.72 339.79,118.22 339.91,118.71 340.04,119.21 340.16,119.71 340.27,120.21 340.39,120.71 340.5,121.2 340.61,121.7 340.72,122.2 340.83,122.69 340.94,123.19 341.04,123.69 341.14,124.18 341.24,124.68 341.34,125.18 341.43,125.67 341.52,126.17 341.62,126.66 341.71,127.16 341.79,127.65 341.88,128.15 341.97,128.64 342.05,129.14 342.13,129.63 342.21,130.13 342.29,130.62 342.37,131.12 342.44,131.61 342.52,132.1 342.59,132.6 342.66,133.09 342.74,133.59 342.81,134.08 342.87,134.57 342.94,135.07 343.01,135.56 343.07,136.05 343.14,136.55 343.2,137.04 343.27,137.53 343.33,138.03 343.39,138.52 343.45,139.01 343.51,139.51 343.57,140 343.63,140.49 343.68,140.99 343.74,141.48 343.8,141.97 343.85,142.47 343.91,142.96 343.97,143.45 344.02,143.95 344.08,144.44 344.13,144.93 344.18,145.43 344.24,145.92 344.29,146.41 344.35,146.91 344.4,147.4 344.45,147.89 344.51,148.39 344.56,148.88 344.61,149.38 344.67,149.87 344.72,150.36 344.78,150.86 344.83,151.35 344.88,151.85 344.94,152.34 344.99,152.83 345.05,153.33 345.1,153.82 345.15,154.32 345.21,154.81 345.26,155.31 345.32,155.8 345.37,156.3 345.43,156.79 345.48,157.29 345.54,157.78 345.59,158.28 345.65,158.77 345.7,159.27 345.76,159.76 345.81,160.26 345.87,160.75 345.92,161.25 345.98,161.75 346.03,162.24 346.09,162.74 346.14,163.23 346.2,163.73 346.25,164.22 346.31,164.72 346.37,165.22 346.42,165.71 346.48,166.21 346.53,166.7 346.59,167.2 346.65,167.7 346.7,168.19 346.76,168.69 346.81,169.18 346.87,169.68 346.93,170.18 346.98,170.67 347.04,171.17 347.1,171.67 347.15,172.16 347.21,172.66 347.27,173.16 347.32,173.65 347.38,174.15 347.44,174.65 347.49,175.14 347.55,175.64 347.61,176.14 347.67,176.64 347.72,177.13 347.78,177.63 347.84,178.13 347.9,178.62 347.95,179.12 348.01,179.62 348.07,180.11 348.13,180.61 348.18,181.11 348.24,181.61 348.3,182.1 348.36,182.6 348.42,183.1 348.48,183.6 348.53,184.09 348.59,184.59 348.65,185.09 348.71,185.59 348.77,186.08 348.83,186.58 348.89,187.08 348.95,187.58 349,188.07 349.06,188.57 349.12,189.07 349.18,189.57 349.24,190.06 349.3,190.56 349.36,191.06 349.42,191.56 349.48,192.05 349.54,192.55 349.6,193.05 349.66,193.55 349.72,194.04 349.78,194.54 349.84,195.04 349.9,195.54 349.96,196.04 350.02,196.53 350.08,197.03 350.14,197.53 350.2,198.03 350.26,198.52 350.32,199.02 350.39,199.52 350.45,200.02 350.51,200.52 350.57,201.01 350.63,201.51 350.69,202.01 350.75,202.51 350.81,203 350.88,203.5 350.94,204 351,204.5 351.06,205 351.12,205.49 351.19,205.99 351.25,206.49 351.31,206.99 351.37,207.48 351.44,207.98 351.5,208.48 351.56,208.98 351.62,209.47 351.69,209.97 351.75,210.47 351.81,210.97 351.88,211.46 351.94,211.96 352,212.46 352.07,212.96 352.13,213.46 352.19,213.95 352.26,214.45 352.32,214.95 352.38,215.45 352.45,215.94 352.51,216.44 352.58,216.94 352.64,217.43 352.71,217.93 352.77,218.43 352.83,218.93 352.9,219.42 352.96,219.92 353.03,220.42 353.09,220.92 353.16,221.41 353.22,221.91 353.29,222.41 353.35,222.9 353.42,223.4 353.49,223.9 353.55,224.39 353.62,224.89 353.68,225.39 353.75,225.88 353.82,226.38 353.88,226.88 353.95,227.37 354.01,227.87 354.08,228.37 354.15,228.86 354.21,229.36 354.28,229.86 354.35,230.35 354.42,230.85 354.48,231.35 354.55,231.84 354.62,232.34 354.68,232.84 354.75,233.33 354.82,233.83 354.89,234.32 354.96,234.82 355.02,235.32 355.09,235.81 355.16,236.31 355.23,236.8 355.3,237.3 355.37,237.79 355.43,238.29 355.5,238.79 355.57,239.28 355.64,239.78 355.71,240.27 355.78,240.77 355.85,241.26 355.92,241.76 355.99,242.25 356.06,242.75 356.13,243.24 356.2,243.74 356.27,244.23 356.34,244.73 356.41,245.22 356.48,245.72 356.55,246.21 356.62,246.71 356.69,247.2 356.76,247.7 356.83,248.19 356.9,248.68 356.97,249.18 357.04,249.67 357.12,250.17 357.19,250.66 357.26,251.15 357.33,251.65 357.4,252.14 357.47,252.64 357.55,253.13 357.62,253.62 357.69,254.12 357.76,254.61 357.84,255.1 357.91,255.6 357.98,256.09 358.06,256.58 358.13,257.08 358.2,257.57 358.27,258.06 358.35,258.55 358.42,259.05 358.5,259.54 358.57,260.03 358.64,260.52 358.72,261.02 358.79,261.51 358.87,262 358.94,262.49 359.02,262.98 359.09,263.48 359.16,263.97 359.24,264.46 359.31,264.95 359.39,265.44 359.47,265.93 359.54,266.42 359.62,266.92 359.69,267.41 359.77,267.9 359.84,268.39 359.92,268.88 360,269.37 360.07,269.86 360.15,270.35 360.23,270.84 360.3,271.33 360.38,271.82 360.46,272.31 360.53,272.8 360.61,273.29 360.69,273.78 360.77,274.27 360.84,274.76 360.92,275.25 361,275.74 361.08,276.23 361.16,276.72 361.23,277.2 361.31,277.69 361.39,278.18 361.47,278.67 361.55,279.16 361.63,279.65 361.71,280.14 361.79,280.62 361.87,281.11 361.96,281.6 362.04,282.09 362.12,282.58 362.21,283.06 362.29,283.55 362.38,284.04 362.46,284.53 362.55,285.02 362.64,285.5 362.73,285.99 362.82,286.48 362.91,286.97 363.01,287.46 363.1,287.95 363.2,288.43 363.3,288.92 363.39,289.41 363.49,289.9 363.6,290.39 363.7,290.88 363.8,291.36 363.91,291.85 364.02,292.34 364.13,292.83 364.24,293.32 364.35,293.81 364.47,294.3 364.59,294.79 364.71,295.28 364.83,295.77 364.95,296.26 365.08,296.75 365.2,297.24 365.33,297.73 365.47,298.22 365.6,298.71 365.74,299.2 365.88,299.69 366.02,300.18 366.16,300.67 366.31,301.16 366.46,301.66 366.61,302.15 366.77,302.64 366.92,303.13 367.09,303.63 367.25,304.12 367.42,304.61 367.58,305.11 367.76,305.6 367.93,306.09 368.11,306.59 368.29,307.08 368.48,307.58 368.67,308.07 368.86,308.57 369.05,309.07 369.25,309.56 369.45,310.06 369.66,310.56 369.87,311.05 370.08,311.55 370.29,312.05 370.51,312.55 370.74,313.05 370.97,313.54 371.2,314.02 371.44,314.49 371.68,314.94 371.93,315.37 372.19,315.77 372.46,316.15 372.73,316.49 373.01,316.8 373.3,317.06 373.61,317.28 373.92,317.46 374.24,317.58 374.57,317.64 374.91,317.64 375.26,317.59 375.61,317.48 375.95,317.31 376.28,317.09 376.6,316.81 376.89,316.49 377.18,316.11 377.44,315.7 377.7,315.25 377.94,314.77 378.17,314.27 378.39,313.75 378.6,313.22 378.8,312.69 379,312.15 379.19,311.62 379.38,311.09 379.57,310.58 379.76,310.07 379.94,309.57 380.12,309.07 380.3,308.58 380.47,308.09 380.65,307.61 380.82,307.14 380.99,306.67 381.16,306.2 381.33,305.73 381.5,305.27 381.66,304.81 381.83,304.35 382,303.89 382.16,303.43 382.33,302.97 382.5,302.51 382.67,302.05 382.84,301.59 383,301.13 383.17,300.68 383.34,300.22 383.51,299.76 383.68,299.3 383.86,298.83 384.03,298.37 384.2,297.91 384.37,297.45 384.54,296.99 384.72,296.53 384.89,296.07 385.06,295.61 385.23,295.14 385.41,294.68 385.58,294.22 385.76,293.75 385.93,293.29 386.11,292.83 386.28,292.36 386.46,291.9 386.63,291.44 386.81,290.97 386.99,290.51 387.16,290.04 387.34,289.58 387.52,289.11 387.69,288.65 387.87,288.18 388.05,287.72 388.23,287.25 388.41,286.78 388.58,286.32 388.76,285.85 388.94,285.38 389.12,284.92 389.3,284.45 389.48,283.98 389.66,283.51 389.83,283.04 390.01,282.58 390.19,282.11 390.37,281.64 390.55,281.17 390.73,280.7 390.91,280.23 391.09,279.76 391.27,279.29 391.45,278.82 391.63,278.35 391.81,277.88 391.99,277.41 392.17,276.94 392.35,276.47 392.53,275.99 392.71,275.52 392.89,275.05 393.07,274.58 393.25,274.11 393.43,273.63 393.61,273.16 393.79,272.69 393.97,272.21 394.15,271.74 394.33,271.27 394.51,270.79 394.68,270.32 394.86,269.84 395.04,269.37 395.22,268.89 395.4,268.42 395.58,267.95 395.77,267.47 395.95,267 396.14,266.53 396.32,266.06 396.51,265.59 396.71,265.13 396.9,264.67 397.11,264.21 397.31,263.75 397.52,263.3 397.73,262.84 397.95,262.4 398.18,261.95 398.41,261.52 398.64,261.08 398.89,260.65 399.14,260.23 399.39,259.81 399.66,259.39 399.93,258.98 400.21,258.58 400.5,258.18 400.79,257.79 401.1,257.41 401.41,257.03 401.74,256.66 402.08,256.3 402.42,255.95 402.78,255.6 403.15,255.26 403.53,254.93 403.92,254.61 404.33,254.3 404.74,254 405.17,253.71 405.61,253.44 406.05,253.19 406.51,252.95 406.97,252.75 407.43,252.57 407.9,252.42 408.37,252.3 408.84,252.23 409.31,252.19 409.79,252.19 410.26,252.23 410.73,252.31 411.2,252.42 411.67,252.56 412.13,252.72 412.6,252.92 413.06,253.13 413.52,253.36 413.98,253.61 414.43,253.87 414.89,254.14 415.34,254.42 415.78,254.71 416.23,254.99 416.67,255.28 417.11,255.57 417.55,255.86 417.99,256.15 418.42,256.44 418.85,256.73 419.28,257.02 419.72,257.3 420.15,257.59 420.58,257.87 421.01,258.14 421.44,258.42 421.87,258.69 422.3,258.95 422.73,259.21 423.16,259.47 423.6,259.71 424.04,259.95 424.47,260.19 424.92,260.41 425.36,260.63 425.8,260.84 426.25,261.03 426.7,261.22 427.16,261.4 427.62,261.57 428.08,261.72 428.55,261.87 429.02,262 429.49,262.12 429.97,262.23 430.45,262.33 430.93,262.42 431.42,262.5 431.91,262.56 432.4,262.62 432.89,262.66 433.38,262.7 433.87,262.72 434.37,262.74 434.87,262.74 435.36,262.74 435.86,262.72 436.36,262.7 436.86,262.66 437.36,262.62 437.86,262.56 438.36,262.5 438.85,262.43 439.35,262.35 439.84,262.25 440.34,262.15 440.83,262.05 441.32,261.93 441.81,261.8 442.3,261.66 442.78,261.52 443.26,261.37 443.74,261.21 444.21,261.04 444.69,260.86 445.16,260.68 445.62,260.49 446.09,260.29 446.55,260.08 447.01,259.87 447.46,259.66 447.92,259.44 448.37,259.21 448.82,258.98 449.27,258.75 449.72,258.52 450.17,258.28 450.61,258.04 451.06,257.8 451.5,257.56 451.95,257.32 452.39,257.08 452.84,256.84 453.28,256.6 453.73,256.36 454.17,256.12 454.62,255.89 455.07,255.66 455.52,255.43 455.97,255.21 456.42,254.99 456.87,254.78 457.33,254.57 457.78,254.37 458.24,254.18 458.71,253.99 459.17,253.81 459.64,253.64 460.11,253.47 460.58,253.32 461.06,253.17 461.54,253.04 462.02,252.91 462.51,252.8 463,252.69 463.49,252.6 463.99,252.52 464.48,252.44 464.98,252.38 465.48,252.33 465.99,252.29 466.49,252.26 466.99,252.24 467.5,252.24 468,252.24 468.5,252.25 469.01,252.28 469.51,252.31 470.01,252.36 470.5,252.42 471,252.49 471.49,252.57 471.98,252.66 472.47,252.76 472.95,252.88 473.43,253 473.91,253.14 474.38,253.29 474.85,253.45 475.31,253.62 475.77,253.8 476.22,253.99 476.66,254.2 477.1,254.41 477.53,254.64 477.96,254.87 478.38,255.12 478.8,255.37 479.22,255.63 479.63,255.9 480.04,256.18 480.44,256.46 480.84,256.75 481.24,257.05 481.64,257.35 482.03,257.65 482.43,257.96 482.82,258.28 483.21,258.59 483.6,258.91 483.99,259.23 484.38,259.55 484.77,259.88 485.16,260.2 485.55,260.52 485.94,260.85 486.33,261.17 486.73,261.49 487.13,261.81 487.53,262.13 487.93,262.44 488.33,262.75 488.74,263.06 489.15,263.36 489.57,263.65 489.98,263.94 490.41,264.23 490.84,264.51 491.27,264.78 491.71,265.04 492.15,265.3 492.6,265.54 493.05,265.78 493.51,266.01 493.97,266.24 494.43,266.45 494.9,266.66 495.37,266.86 495.84,267.04 496.32,267.22 496.8,267.39 497.28,267.55 497.77,267.7 498.25,267.84 498.74,267.97 499.23,268.09 499.72,268.2 500.21,268.3 500.7,268.39 501.19,268.47 501.69,268.53 502.18,268.59 502.67,268.63 503.16,268.66 503.66,268.68 504.15,268.69 504.64,268.69 505.13,268.67 505.61,268.64 506.1,268.6 506.58,268.55 507.07,268.49 507.55,268.42 508.03,268.33 508.51,268.24 508.99,268.14 509.47,268.03 509.94,267.91 510.42,267.78 510.9,267.64 511.37,267.5 511.84,267.35 512.32,267.19 512.79,267.03 513.26,266.86 513.73,266.69 514.2,266.51 514.67,266.32 515.14,266.13 515.61,265.94 516.08,265.75 516.54,265.55 517.01,265.35 517.48,265.14 517.95,264.94 518.41,264.73 518.88,264.52 519.34,264.31 519.81,264.11 520.28,263.9 520.74,263.69 521.21,263.48 521.68,263.27 522.14,263.07 522.61,262.86 523.08,262.66 523.54,262.46 524.01,262.26 524.48,262.06 524.95,261.87 525.41,261.67 525.88,261.48 526.35,261.3 526.82,261.11 527.29,260.93 527.76,260.76 528.23,260.58 528.7,260.42 529.17,260.25 529.64,260.09 530.11,259.94 530.58,259.79 531.05,259.64 531.53,259.51 532,259.37 532.48,259.24 532.95,259.12 533.43,259.01 533.9,258.9 534.38,258.8 534.86,258.7 535.34,258.61 535.82,258.53 536.3,258.46 536.78,258.4 537.26,258.34 537.74,258.29 538.22,258.25 538.71,258.22 539.19,258.2 539.68,258.18 540.17,258.17 540.66,258.17 541.14,258.18 541.63,258.19 542.12,258.21 542.61,258.23 543.11,258.27 543.6,258.3 544.09,258.35 544.59,258.39 545.08,258.44 545.57,258.5 546.07,258.56 546.57,258.63 547.06,258.7 547.56,258.77 548.06,258.84 548.55,258.92 549.05,259 549.55,259.08 550.05,259.17 550.55,259.26 551.05,259.34 551.55,259.43 552.05,259.52 552.55,259.61 553.05,259.7 553.56,259.8 554.06,259.89 554.56,259.98 555.06,260.07 555.56,260.16 556.07,260.24 556.57,260.33 557.07,260.41 557.58,260.5 558.08,260.58 558.58,260.65 559.08,260.73 559.59,260.8 560.09,260.87 560.59,260.93 561.1,260.99 561.6,261.04 562.1,261.09 562.61,261.14 563.11,261.18 563.61,261.22 564.11,261.25 564.62,261.27 565.12,261.29 565.62,261.3 566.12,261.3 566.62,261.3 567.12,261.29 567.62,261.27 568.12,261.25 568.62,261.23 569.12,261.19 569.62,261.16 570.12,261.11 570.62,261.07 571.12,261.01 571.62,260.96 572.12,260.9 572.62,260.83 573.11,260.77 573.61,260.7 574.11,260.63 574.61,260.55 575.1,260.47 575.6,260.39 576.1,260.31 576.59,260.23 577.09,260.14 577.59,260.05 578.08,259.97 578.58,259.88 579.07,259.79 579.57,259.7 580.06,259.61 580.56,259.53 581.05,259.44 581.55,259.35 582.04,259.27 582.54,259.18 583.03,259.1 583.53,259.02 584.02,258.94 584.51,258.86 585.01,258.79 585.5,258.72 585.99,258.65 586.49,258.59 586.98,258.53 587.47,258.47 587.97,258.42 588.46,258.37 588.95,258.33 589.44,258.29 589.94,258.25 590.43,258.23 590.92,258.2 591.41,258.19 591.9,258.18 592.4,258.17 592.89,258.17 593.38,258.18 593.87,258.2 594.36,258.22 594.85,258.25 595.35,258.29 595.84,258.33 596.33,258.38 596.82,258.44 597.31,258.5 597.8,258.56 598.29,258.63 598.78,258.71 599.27,258.79 599.76,258.88 600.26,258.96 600.75,259.06 601.24,259.15 601.73,259.25 602.22,259.36 602.71,259.46 603.2,259.57 603.69,259.68 604.18,259.8 604.67,259.91 605.17,260.03 605.66,260.15 606.15,260.27 606.64,260.39 607.13,260.51 607.62,260.63 608.12,260.76 608.61,260.88 609.1,261 609.59,261.12 610.08,261.24 610.58,261.36 611.07,261.48 611.56,261.6 612.05,261.72 612.55,261.83 613.04,261.94 613.53,262.05 614.03,262.16 614.52,262.26 615.01,262.36 615.51,262.46 616,262.55 616.5,262.64 616.99,262.73 617.49,262.81 617.98,262.88 618.48,262.96 618.97,263.02 619.47,263.08 619.97,263.14 620.46,263.19 620.96,263.23 621.46,263.27 621.95,263.3 622.45,263.33 622.95,263.34 623.45,263.36 623.95,263.36 624.45,263.36 624.94,263.36 625.44,263.35 625.94,263.34 626.44,263.32 626.94,263.3 627.44,263.27 627.94,263.24 628.44,263.21 628.93,263.17 629.43,263.13 629.93,263.08 630.43,263.04 630.93,262.99 631.43,262.93 631.92,262.88 632.42,262.82 632.92,262.76 633.42,262.7 633.91,262.64 634.41,262.58 634.91,262.52 635.4,262.45 635.9,262.39 636.39,262.32 636.88,262.26 637.2,262.22" stroke="#000" stroke-width="3.9" fill="none" stroke-linejoin="round" clip-path="url(#cl)"/>
<path d="M872.7,116.58H1361M872.7,213.16H1361M872.7,309.74H1361M872.7,406.32H1361M959.86,39V486M1064.22,39V486M1168.58,39V486M1272.94,39V486" stroke="#000" stroke-width="2.0" stroke-dasharray="2 3.845" fill="none"/>
<path d="M855.5,20h15.6M1377.3,20h-15.6M855.5,116.58h15.6M1377.3,116.58h-15.6M855.5,213.16h15.6M1377.3,213.16h-15.6M855.5,309.74h15.6M1377.3,309.74h-15.6M855.5,406.32h15.6M1377.3,406.32h-15.6M855.5,502.9h15.6M1377.3,502.9h-15.6M855.5,502.9v-15.6M855.5,20v15.6M959.86,502.9v-15.6M959.86,20v15.6M1064.22,502.9v-15.6M1064.22,20v15.6M1168.58,502.9v-15.6M1168.58,20v15.6M1272.94,502.9v-15.6M1272.94,20v15.6M1377.3,502.9v-15.6M1377.3,20v15.6" stroke="#000" stroke-width="2" fill="none"/>
<rect x="855.5" y="20.0" width="521.8" height="482.9" stroke="#000" stroke-width="2.2" fill="none"/>
<rect x="1048" y="37" width="300" height="70" fill="#fff"/>
<polyline points="855.7,309.8 860.2,314.3 861.8,340.5 863.6,385.9 865.5,406.4 866.4,425 868.2,436 869.2,447 870.9,459.5 871.5,464 876.6,454.4 878.3,473.2 880.6,493.6 881.6,504 884,504 893.1,444.8 893.6,452.7 895.3,475.5 896.5,504 901.4,504 903.9,473.2 908.4,486.8 909.5,497 911.8,480 914.1,459.5 916.9,451 920.9,441.4 922,432.3 925.3,403.6 933.6,356.4 942.7,318.2 948.2,309.1 959.1,276.4 968.2,250.9 977.3,218.2 980,212.3 987.3,190.5 994.5,177.7 1000.9,166.8 1007.3,150.5 1018.2,140.5 1027.3,130.5 1034.5,127.7 1044.5,128.6 1050.9,122.3 1058.2,119.5 1065.5,118.1 1078.2,119.2 1087.3,118.1 1100,123.2 1105.5,121 1110.9,124.1 1116.4,133.2 1127.3,140.5 1134.5,157.7 1141.8,177.7 1149.7,191.7 1155,190.9 1164.3,214 1170.3,227.3 1176.4,231 1186.1,255.2 1195.8,269.8 1203.1,291.7 1211.6,315.9 1214,319.6 1222.5,319.6 1225.9,324.8 1230.3,344 1235.4,357.3 1241.3,344 1246.6,344 1251.9,364.7 1262.9,372.1 1267.9,395.7 1274.7,376.5 1280.6,377.4 1290.9,395.7 1296.9,412 1305.7,454.8 1311.6,454.8 1316.1,478.5 1319.3,504" stroke="#000" stroke-width="2" fill="none" stroke-dasharray="8 3.7" clip-path="url(#cr)"/>
<polyline points="857.8,252.8 857.8,216.6 863,216.6 863,192.7 888.7,192.7 888.7,444.7 911.4,444.7 911.4,232.3 924.8,232.3 924.8,213 963.3,213 963.3,116.6 1224.4,116.6 1224.4,212.8 1377.3,212.8" stroke="#000" stroke-width="3.6" fill="none" stroke-linejoin="miter" clip-path="url(#cr)"/>
<path d="M1233.3,53.5H1334.8" stroke="#000" stroke-width="2" stroke-dasharray="8 3.7"/>
<path d="M1233.3,89.1H1334.8" stroke="#000" stroke-width="3.6"/>
<g font-family="Liberation Serif" font-size="36" fill="#000" stroke="#000" stroke-width="0.35">
<text x="116.5" y="32.2" text-anchor="end">1.2</text>
<text x="116.5" y="112.68" text-anchor="end">0.8</text>
<text x="116.5" y="193.17" text-anchor="end">0.4</text>
<text x="116.5" y="273.65" text-anchor="end">0</text>
<text x="116.5" y="354.13" text-anchor="end">–<tspan dx="0.8">0.4</tspan></text>
<text x="116.5" y="434.62" text-anchor="end">–<tspan dx="0.8">0.8</tspan></text>
<text x="116.5" y="515.1" text-anchor="end">–<tspan dx="0.8">1.2</tspan></text>
<text x="142.2" y="551" text-anchor="middle">0</text>
<text x="242.3" y="551" text-anchor="middle">0.2</text>
<text x="342.4" y="551" text-anchor="middle">0.4</text>
<text x="442.5" y="551" text-anchor="middle">0.6</text>
<text x="542.6" y="551" text-anchor="middle">0.8</text>
<text x="642.7" y="551" text-anchor="middle">1</text>
<text x="387.5" y="599" text-anchor="middle">Time (ns)</text>
<text transform="translate(27,261.6) rotate(-90)" text-anchor="middle" font-size="35.8">s(t) (V)</text>
<text x="835.3" y="32.2" text-anchor="end">10</text>
<text x="835.3" y="128.78" text-anchor="end">0</text>
<text x="835.3" y="225.36" text-anchor="end">–<tspan dx="0.8">10</tspan></text>
<text x="835.3" y="321.94" text-anchor="end">–<tspan dx="0.8">20</tspan></text>
<text x="835.3" y="418.52" text-anchor="end">–<tspan dx="0.8">30</tspan></text>
<text x="835.3" y="515.1" text-anchor="end">–<tspan dx="0.8">40</tspan></text>
<text x="860" y="551" text-anchor="middle">0</text>
<text x="964.36" y="551" text-anchor="middle">3</text>
<text x="1068.72" y="551" text-anchor="middle">6</text>
<text x="1173.08" y="551" text-anchor="middle">9</text>
<text x="1277.44" y="551" text-anchor="middle">12</text>
<text x="1381.8" y="551" text-anchor="middle">15</text>
<text x="1116" y="599" text-anchor="middle">Frequency (GHz)</text>
<text transform="translate(742.4,261.5) rotate(-90)" text-anchor="middle" font-size="35.7">PSD (dBm)</text>
<text x="1212.5" y="66.1" text-anchor="end">s(t) FFT</text>
<text x="1212.5" y="101" text-anchor="end">FCC Mask</text>
</g>
<g font-family="Liberation Serif" font-size="30.5" fill="#000" stroke="#000" stroke-width="0.3" letter-spacing="0.5">
<text x="379.4" y="644" text-anchor="middle">(a)</text>
<text x="1125.8" y="644" text-anchor="middle">(b)</text>
</g>
</svg></body></html>
